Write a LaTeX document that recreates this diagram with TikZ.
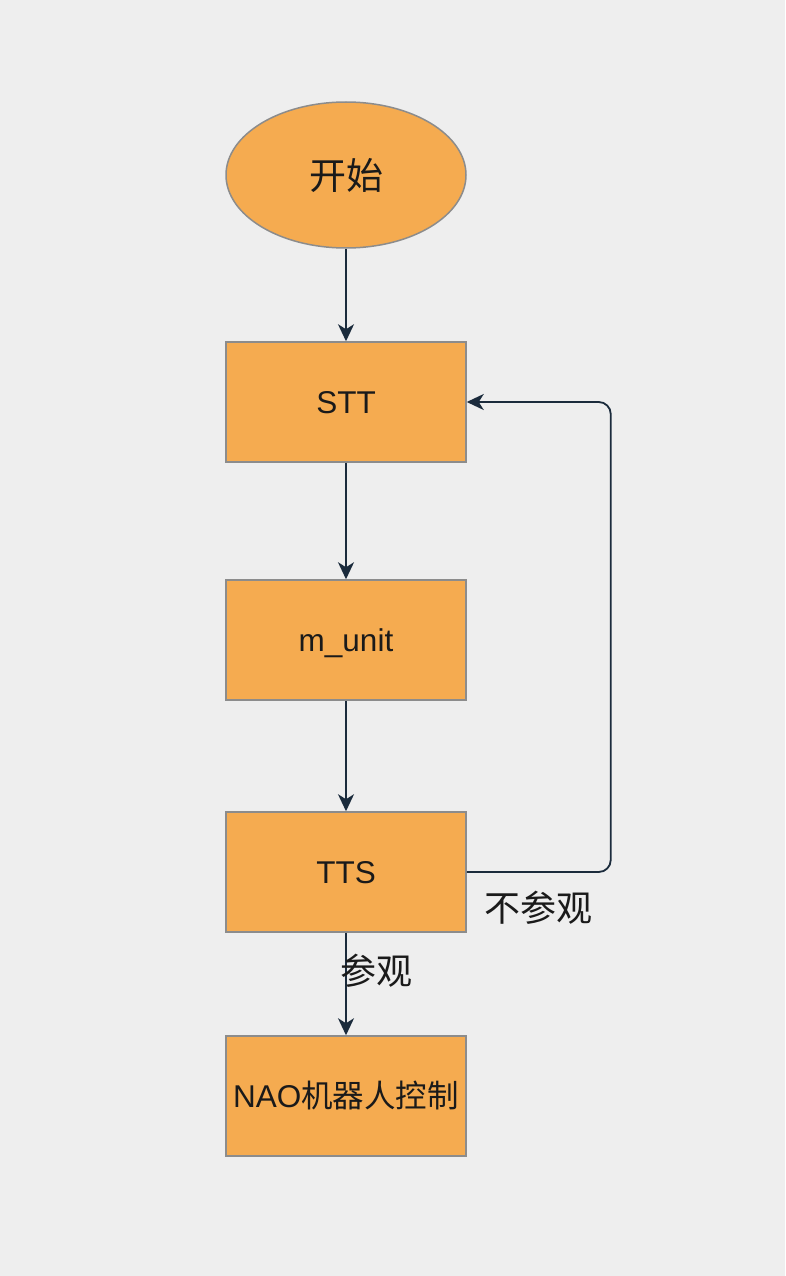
\documentclass[tikz,border=0pt]{standalone}
\usepackage{fontspec}
\setmainfont{Liberation Sans}
\newfontfamily\cjk{Noto Sans CJK SC}
\usepackage{tikz}
\usetikzlibrary{shapes.geometric, arrows.meta}
\definecolor{boxfill}{HTML}{F5AB50}
\definecolor{boxline}{HTML}{8C8C8C}
\definecolor{arrowline}{HTML}{1B2B3C}
\definecolor{bgcolor}{HTML}{EEEEEE}
\definecolor{textcol}{HTML}{1A1A1A}
\tikzstyle{startstop} = [ellipse, minimum width=240pt, minimum height=146pt, inner sep=0pt, text centered, draw=boxline, line width=1.5pt, fill=boxfill, text=textcol, font=\cjk\fontsize{37}{40}\selectfont]
\tikzstyle{process} = [rectangle, minimum width=240pt, minimum height=120pt, inner sep=0pt, text centered, text height=28pt, text depth=5.45pt, draw=boxline, line width=1.5pt, fill=boxfill, text=textcol, font=\fontsize{31.5}{36}\selectfont]
\tikzstyle{arrow} = [line width=1.8pt, draw=arrowline, -{Stealth[length=17pt, width=16pt, inset=5pt]}]
\tikzstyle{branch} = [text=textcol, font=\cjk\fontsize{36}{40}\selectfont]

\begin{document}
\begin{tikzpicture}[node distance=232pt]
            \useasboundingbox [fill=bgcolor] (0,0) rectangle (785pt,-1276pt);
            \node (start) [startstop] at (346pt,-175pt) {开始};
            \node (stt) [process, below of=start, yshift=5pt] {STT};
            \node (munit) [process, below of=stt, yshift=-6pt] {m\_unit};
            \node (tts) [process, below of=munit] {TTS};
            \node (nao) [process, below of=tts, yshift=8pt] {NAO{\cjk 机器人控制}};
            \draw [arrow] (start) -- (stt);
            \draw [arrow] (stt) -- (munit);
            \draw [arrow] (munit) -- (tts);
            \draw [arrow] (tts) -- node[branch, xshift=30pt, yshift=13pt] {参观} (nao);
            \draw [arrow, rounded corners=12pt] (tts.east) -- node[branch, below, yshift=-15pt] {不参观} ++(144pt,0) |- (stt.east);
        \end{tikzpicture}
\end{document}
